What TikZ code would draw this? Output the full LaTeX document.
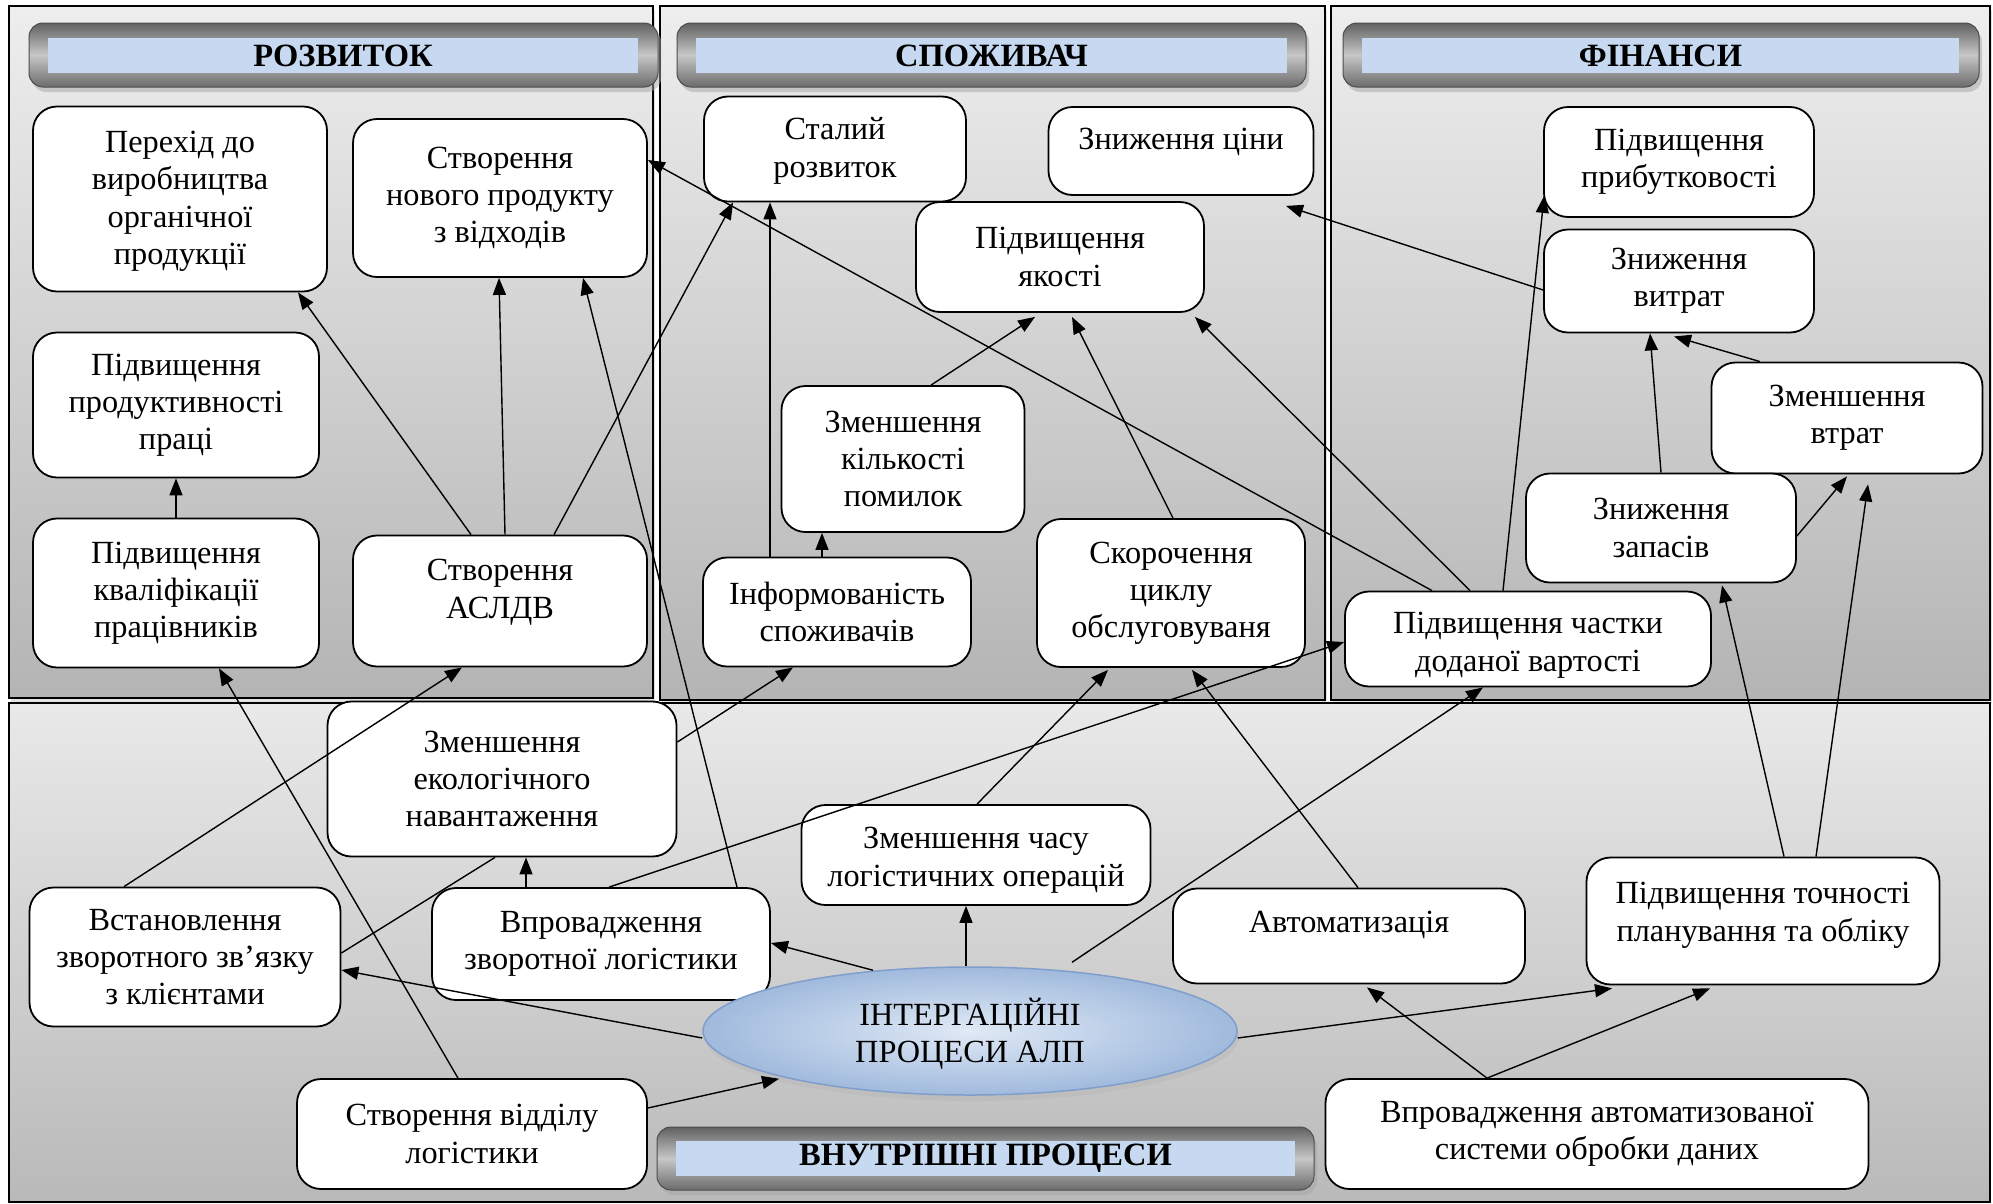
\documentclass[tikz,border=0pt]{standalone}
\usepackage{fontspec}
\setmainfont{Liberation Serif}
\usetikzlibrary{arrows.meta,shapes.geometric,shadows}
\definecolor{hdrblue}{RGB}{198,217,241}
\definecolor{ellin}{RGB}{224,233,245}
\definecolor{ellout}{RGB}{160,186,221}
\definecolor{ellborder}{RGB}{128,158,204}
\definecolor{pantop}{RGB}{238,238,238}
\definecolor{panbot}{RGB}{180,180,180}
\newcommand\bxfont{\fontsize{32.3}{37.2}\selectfont}
\newcommand\hdfont{\fontsize{32.5}{37}\selectfont}
\newcommand\vshift[2]{\raisebox{#1}[\height][\depth]{\begin{tabular}{@{}c@{}}#2\end{tabular}}}
\tikzset{
  box/.style={draw=black, line width=1.8pt, rounded corners=24pt, fill=white,
    align=center, inner sep=0pt, font=\bxfont},
  con/.style={line width=1.4pt, -{Triangle[length=17pt,width=13pt]}},
  plainline/.style={line width=1.4pt},
  panel/.style={draw=black, line width=1.5pt, top color=pantop, bottom color=panbot},
  hdr/.style={rounded corners=14pt, draw=black!70, line width=1pt,
    top color=black!62, bottom color=black!58, middle color=black!22,
    drop shadow={shadow xshift=3pt, shadow yshift=-5pt, fill=black!35}},
  hdrin/.style={fill=hdrblue, inner sep=0pt, font=\bfseries\hdfont}
}
\begin{document}
\begin{tikzpicture}[x=1pt,y=-1pt]
\useasboundingbox (0,0) rectangle (1993,1203);
% panels
\path[panel, drop shadow={shadow xshift=2pt, shadow yshift=-4pt, fill=gray!45}] (9,6) rectangle (653,698);
\path[panel, drop shadow={shadow xshift=2pt, shadow yshift=-4pt, fill=gray!45}] (660,6) rectangle (1325,700);
\path[panel, drop shadow={shadow xshift=2pt, shadow yshift=-4pt, fill=gray!45}] (1331,6) rectangle (1990,700);
\path[panel, top color={rgb,255:red,233;green,233;blue,233}, bottom color={rgb,255:red,185;green,185;blue,185}] (9,703) rectangle (1990,1202);
% headers
\node[hdr, minimum width=629pt, minimum height=64pt] (h1) at (343.5,55) {};
\node[hdrin, minimum width=590pt, minimum height=35pt] (h1t) at (343,55.5) {РОЗВИТОК};
\node[hdr, minimum width=629pt, minimum height=64pt] (h2) at (991.5,55) {};
\node[hdrin, minimum width=591pt, minimum height=35pt] (h2t) at (991.5,55.5) {СПОЖИВАЧ};
\node[hdr, minimum width=636pt, minimum height=64pt] (h3) at (1661,55) {};
\node[hdrin, minimum width=597pt, minimum height=35pt] (h3t) at (1660.5,55.5) {ФІНАНСИ};
\node[hdr, minimum width=657pt, minimum height=63pt] (h4) at (985.5,1158.5) {};
\node[hdrin, minimum width=619pt, minimum height=35pt] (h4t) at (985.5,1158.5) {ВНУТРІШНІ ПРОЦЕСИ};
% nodes
\node[box, minimum width=294pt, minimum height=185pt] (n1) at (180,199) {\vshift{-2pt}{Перехід до\\виробництва\\органічної\\продукції}};
\node[box, minimum width=294pt, minimum height=158pt] (n2) at (500,198) {Створення\\нового продукту\\з відходів};
\node[box, minimum width=286pt, minimum height=145pt] (n3) at (176,405) {Підвищення\\продуктивності\\праці};
\node[box, minimum width=286pt, minimum height=149pt] (n4) at (176,593) {Підвищення\\кваліфікації\\працівників};
\node[box, minimum width=294pt, minimum height=131pt] (n5) at (500,601) {\vshift{9pt}{Створення\\АСЛДВ}};
\node[box, minimum width=262pt, minimum height=105pt] (n6) at (835,149) {\vshift{-2pt}{Сталий\\розвиток}};
\node[box, minimum width=265pt, minimum height=88pt] (n7) at (1181,151) {\vshift{9pt}{Зниження ціни}};
\node[box, minimum width=288pt, minimum height=110pt] (n8) at (1060,257) {Підвищення\\якості};
\node[box, minimum width=243pt, minimum height=146pt] (n9) at (903,459) {Зменшення\\кількості\\помилок};
\node[box, minimum width=268pt, minimum height=109pt] (n10) at (837,612) {Інформованість\\споживачів};
\node[box, minimum width=268pt, minimum height=148pt] (n11) at (1171,593) {Скорочення\\циклу\\обслуговуваня};
\node[box, minimum width=270pt, minimum height=110pt] (n12) at (1679,162) {Підвищення\\прибутковості};
\node[box, minimum width=270pt, minimum height=103pt] (n13) at (1679,281) {Зниження\\витрат};
\node[box, minimum width=271pt, minimum height=111pt] (n14) at (1847,418) {Зменшення\\втрат};
\node[box, minimum width=270pt, minimum height=109pt] (n15) at (1661,528) {Зниження\\запасів};
\node[box, minimum width=366pt, minimum height=95pt] (n16) at (1528,639) {\vshift{-6pt}{Підвищення частки\\доданої вартості}};
\node[box, minimum width=349pt, minimum height=155pt] (n17) at (502,779) {Зменшення\\екологічного\\навантаження};
\node[box, minimum width=349pt, minimum height=100pt] (n18) at (976,855) {\vshift{-5pt}{Зменшення часу\\логістичних операцій}};
\node[box, minimum width=311pt, minimum height=139pt] (n19) at (185,957) {Встановлення\\зворотного зв’язку\\з клієнтами};
\node[box, minimum width=338pt, minimum height=112pt] (n20) at (601,944) {Впровадження\\зворотної логістики};
\node[box, minimum width=352pt, minimum height=95pt] (n21) at (1349,936) {\vshift{11pt}{Автоматизація}};
\node[box, minimum width=353pt, minimum height=127pt] (n22) at (1763,921) {\vshift{6pt}{Підвищення точності\\планування та обліку}};
\node[ellipse, minimum width=534pt, minimum height=128pt, inner sep=0pt, inner color=ellin, outer color=ellout,
  draw=ellborder, line width=1.5pt, align=center, font=\bxfont,
  drop shadow={shadow xshift=2pt, shadow yshift=-6pt, fill=gray!55}] (n23) at (970,1031) {\vshift{-5pt}{ІНТЕРГАЦІЙНІ\\ПРОЦЕСИ АЛП}};
\node[box, minimum width=350pt, minimum height=110pt] (n24) at (472,1134) {Створення відділу\\логістики};
\node[box, minimum width=543pt, minimum height=110pt] (n25) at (1597,1134) {Впровадження автоматизованої\\системи обробки даних};
% connectors
\draw[con] ([xshift=-29pt]n5.north) -- ([xshift=118pt]n1.south);
\draw[con] ([xshift=5pt]n5.north) -- ([xshift=-1pt]n2.south);
\draw[con] ([xshift=54pt]n5.north) -- ([xshift=-102pt]n6.south);
\draw[con] (n4.north) -- (n3.south);
\draw[con] ([xshift=136pt]n20.north) -- ([xshift=83pt]n2.south);
\draw[con] ([xshift=-96pt]n16.north) -- ([yshift=38pt]n2.east);
\draw[con] ([xshift=-58pt]n16.north) -- ([xshift=-10pt,yshift=-4pt]n8.south east);
\draw[con] ([xshift=-25pt]n16.north) -- ([xshift=1pt,yshift=22pt]n12.south west);
\draw[con] ([yshift=-9pt]n13.west) -- ([xshift=105pt,yshift=-10pt]n7.south);
\draw[con] (n15.north) -- ([xshift=-29pt]n13.south);
\draw[con] ([xshift=-87pt]n14.north) -- ([xshift=-5pt,yshift=-3pt]n13.south);
\draw[con] ([yshift=-8pt]n15.east) -- ([yshift=-2pt]n14.south);
\draw[con] ([xshift=21pt]n22.north) -- ([xshift=61pt,yshift=-2pt]n15.south);
\draw[con] ([xshift=53pt]n22.north) -- ([xshift=21pt,yshift=-10pt]n14.south);
\draw[con] ([xshift=28pt]n9.north) -- ([xshift=-25pt,yshift=-4pt]n8.south);
\draw[con] ([xshift=2pt]n11.north) -- ([xshift=12pt,yshift=-4pt]n8.south);
\draw[con] ([xshift=-67pt]n10.north) -- ([xshift=-65pt]n6.south);
\draw[con] ([xshift=-15pt]n10.north) -- ([xshift=-81pt]n9.south);
\draw[con] ([yshift=37pt]n17.east) -- ([xshift=-44pt]n10.south);
\draw[con] ([xshift=8pt]n20.north) -- ([yshift=-3pt]n16.west);
\draw[con] ([xshift=-61pt]n19.north) -- ([xshift=-38pt]n5.south);
\draw[con] ([xshift=-14pt]n24.north) -- ([xshift=43pt]n4.south);
\draw[plainline] ([yshift=4pt]n19.east) -- ([xshift=-7pt]n17.south);
\draw[con] ([xshift=-75pt]n20.north) -- ([xshift=24pt]n17.south);
\draw[con] ([yshift=-7pt]n23.west) -- ([yshift=-13pt]n19.east);
\draw[con] ([xshift=-97pt,yshift=-4pt]n23.north) -- ([yshift=1pt]n20.east);
\draw[con] ([xshift=-4pt]n23.north) -- ([xshift=-10pt]n18.south);
\draw[con] ([xshift=102pt,yshift=4pt]n23.north) -- ([xshift=-45pt]n16.south);
\draw[con] ([yshift=26pt]n24.east) -- ([xshift=-191pt,yshift=17pt]n23.south);
\draw[con] ([yshift=-7pt]n23.east) -- ([xshift=-151pt,yshift=-3pt]n22.south);
\draw[con] ([xshift=-110pt]n25.north) -- ([xshift=18pt,yshift=-3pt]n21.south);
\draw[con] ([xshift=-110pt]n25.north) -- ([xshift=-53pt,yshift=-3pt]n22.south);
\draw[con] ([xshift=1pt]n18.north) -- ([xshift=-63pt,yshift=-2pt]n11.south);
\draw[con] ([xshift=9pt]n21.north) -- ([xshift=21pt,yshift=-2pt]n11.south);
\end{tikzpicture}
\end{document}
